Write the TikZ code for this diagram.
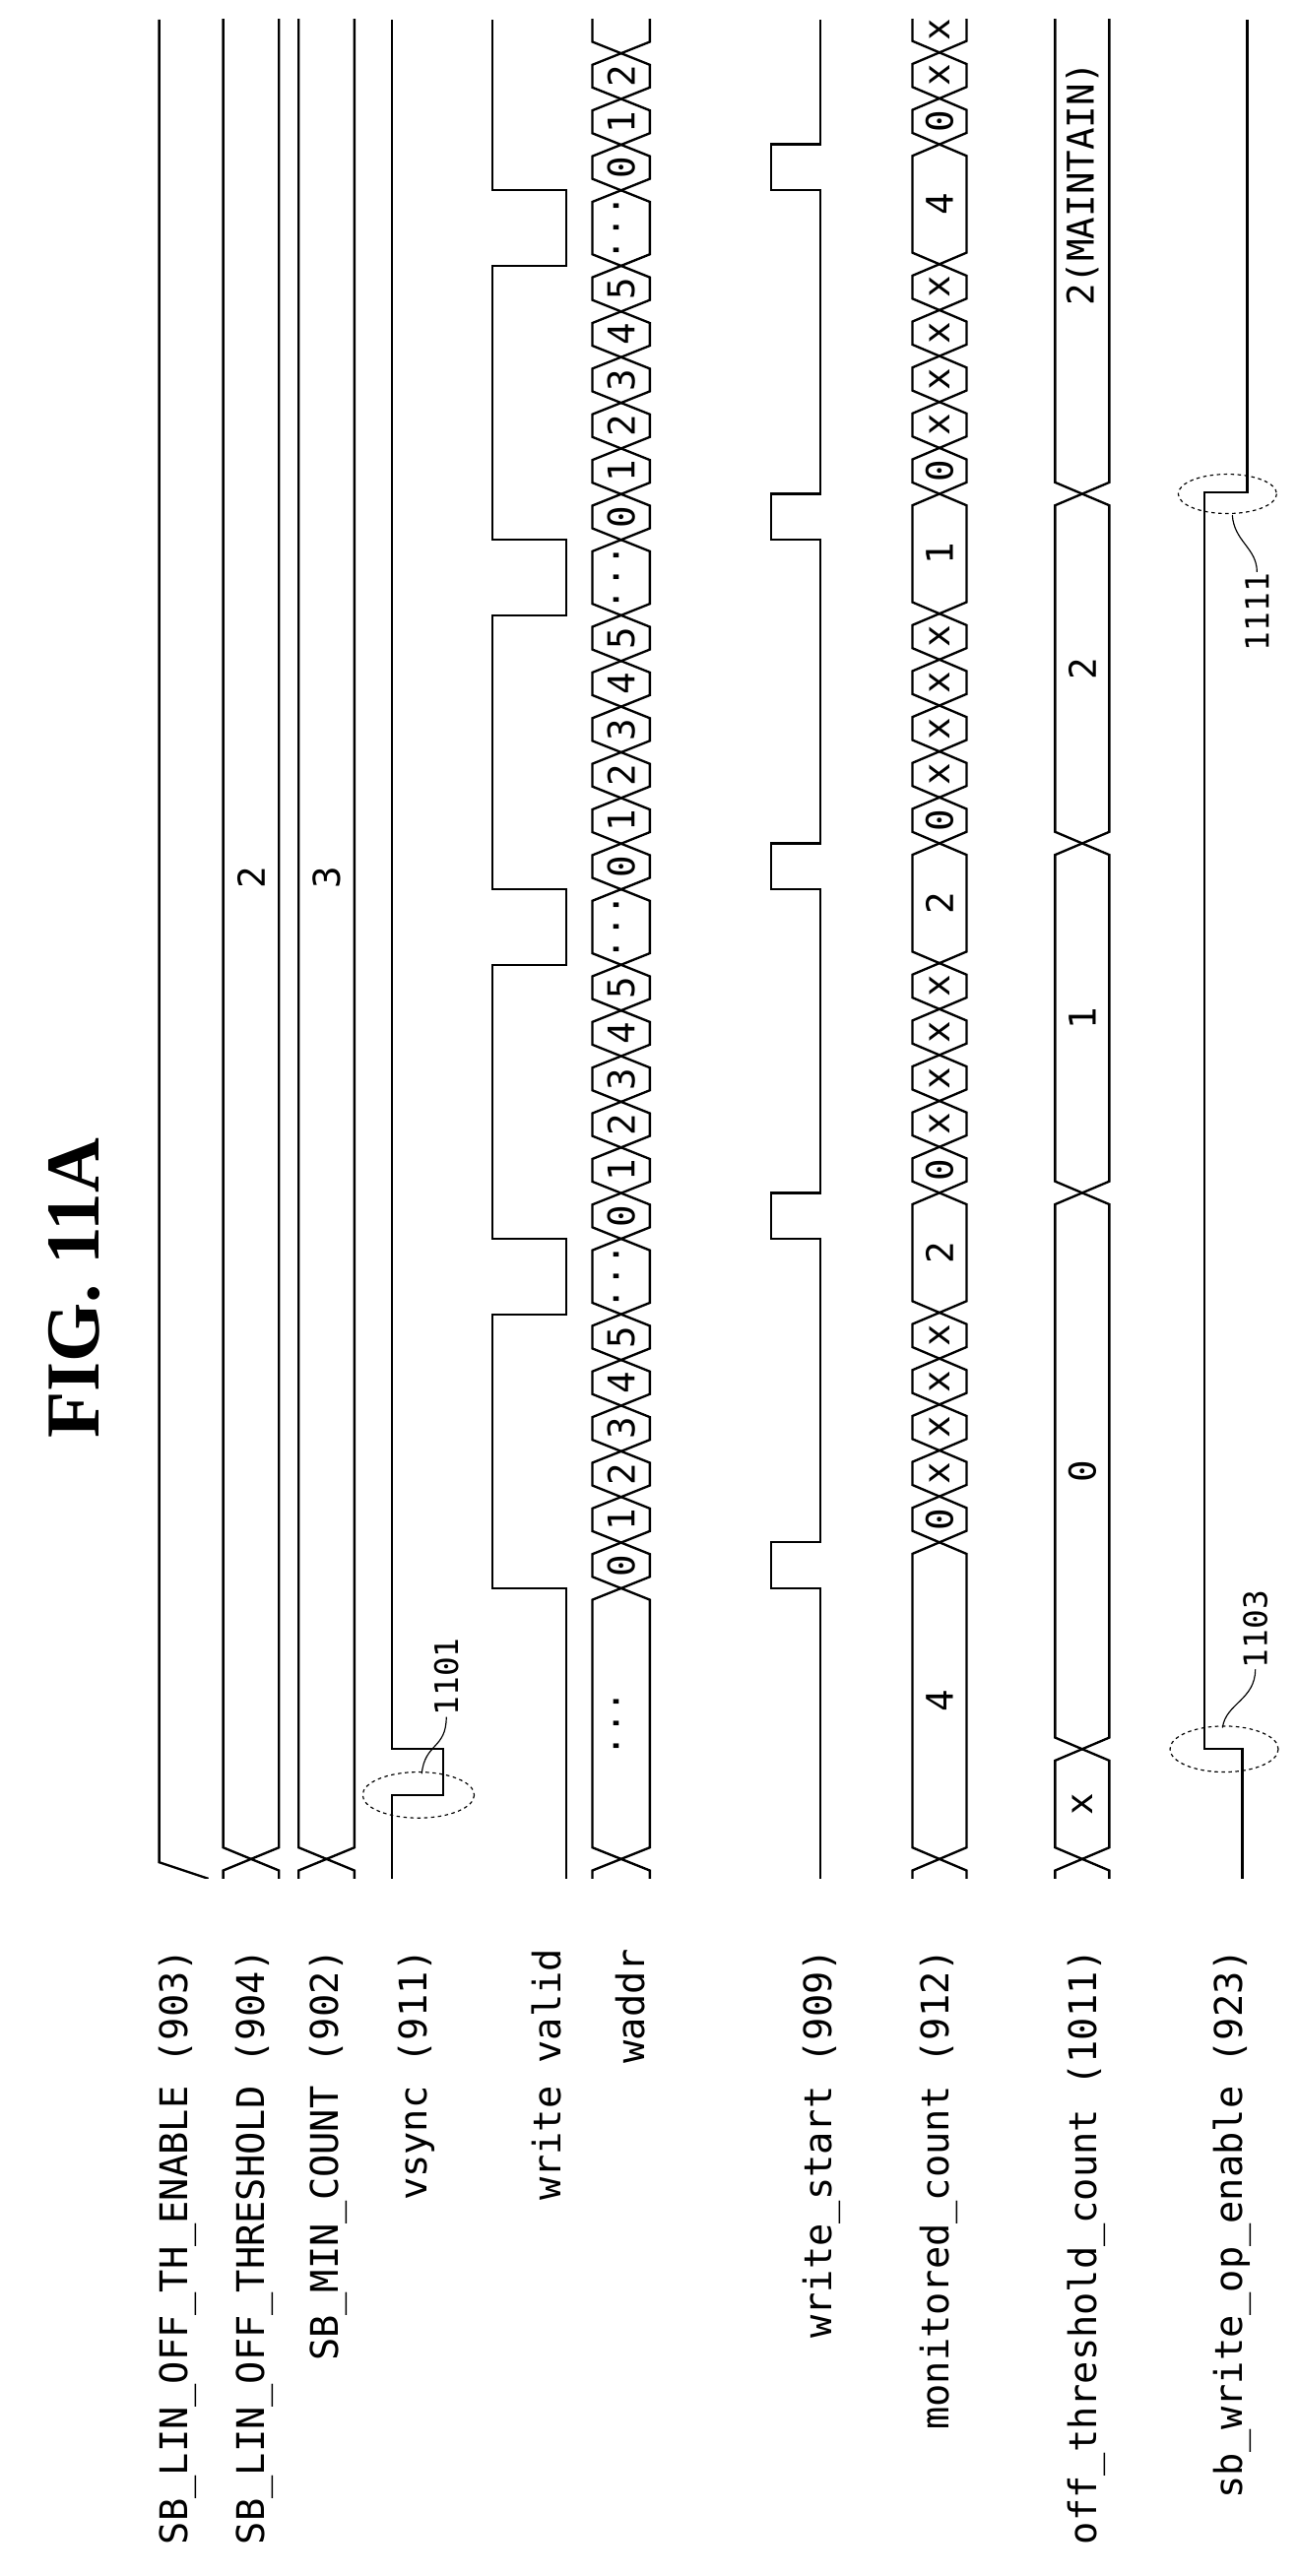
\documentclass[tikz,border=0pt]{standalone}
\usepackage{fontspec}
\setmainfont{DejaVu Sans Mono}
\newfontfamily\titlefont{Liberation Serif}

% one bus cell: x left, x right, top, bottom, value
\newcommand{\buscell}[5]{%
\draw (#1,{#4-7})--(#1,{#3+7})--({(#1+#2)/2},{#3})--(#2,{#3+7})--(#2,{#4-7})--({(#1+#2)/2},{#4})--cycle;
\node[val] at ({(#1+#2)/2},{((#3)+(#4))/2}){#5};
}

\begin{document}
\begin{tikzpicture}[x=0.05cm,y=-0.05cm,line width=2pt,line join=miter,
  sig/.style={font=\fontsize{33}{33}\selectfont,rotate=90,inner sep=0pt,anchor=east},
  val/.style={font=\fontsize{32}{32}\selectfont,rotate=90,inner sep=0pt},
  refnum/.style={font=\fontsize{28}{28}\selectfont,rotate=90,inner sep=0pt},
  refmark/.style={dashed,line width=1pt},
  leader/.style={line width=1pt}]
\useasboundingbox (0,0) rectangle (790,1570);
\node[rotate=90,font=\titlefont\bfseries\fontsize{66}{66}\selectfont] (title) at (45,785){FIG. 11A};

% signal names
\node[sig] (lenable) at (108,1187){SB\_LIN\_OFF\_TH\_ENABLE (903)};
\node[sig] (lthresh) at (155,1187){SB\_LIN\_OFF\_THRESHOLD (904)};
\node[sig] (lmin) at (200,1187){SB\_MIN\_COUNT (902)};
\node[sig] (lvsync) at (254,1187){vsync (911)};
\node[sig] (lvalid) at (333,1187){write valid};
\node[sig] (lwaddr) at (384,1187){waddr};
\node[sig] (lstart) at (501,1187){write\_start (909)};
\node[sig] (lmon) at (572,1187){monitored\_count (912)};
\node[sig] (loff) at (662,1187){off\_threshold\_count (1011)};
\node[sig] (lop) at (751,1187){sb\_write\_op\_enable (923)};

\begin{scope}
\clip (0,12) rectangle (790,1145);
% SB_LIN_OFF_TH_ENABLE
\draw (97,12)--(97,1135)--(127,1145);
% threshold and min count
\buscell{136}{170}{-63}{1133}{2}
\buscell{136}{170}{1133}{1170}{}
\buscell{182}{216}{-63}{1133}{3}
\buscell{182}{216}{1133}{1170}{}
% vsync
\draw (239,1145)--(239,1094)--(270,1094)--(270,1066)--(239,1066)--(239,12);
% write valid
\draw (345,1145)--(345,968)--(300,968)
  \foreach \a in {755,542,329,116}{--(300,{\a+46})--(345,{\a+46})--(345,\a)--(300,\a)}--(300,12);
% waddr
\buscell{361}{396}{1133}{1170}{}
\buscell{361}{396}{968}{1133}{···}
\foreach \b/\a in {968/755,755/542,542/329,329/116}{
  \foreach \i in {0,...,5}{
    \pgfmathsetmacro\lo{\b-\i*27.83}
    \pgfmathsetmacro\hi{\b-(\i+1)*27.83}
    \buscell{361}{396}{\hi}{\lo}{\i}
  }
  \buscell{361}{396}{\a}{\a+46}{···}
}
\buscell{361}{396}{88.2}{116}{0}
\buscell{361}{396}{60.3}{88.2}{1}
\buscell{361}{396}{32.5}{60.3}{2}
\buscell{361}{396}{-20}{32.5}{}
% write_start
\draw (500,1145)
  \foreach \a in {968,755,542,329,116}{--(500,\a)--(470,\a)--(470,{\a-28})--(500,{\a-28})}--(500,12);
% monitored_count
\buscell{556}{589}{1133}{1170}{}
\buscell{556}{589}{940}{1133}{4}
\foreach \a/\v in {968/2,755/2,542/1,329/4}{
  \buscell{556}{589}{\a-56}{\a-28}{0}
  \foreach \k in {2,...,5}{\buscell{556}{589}{\a-28*(\k+1)}{\a-28*\k}{x}}
  \buscell{556}{589}{\a-241}{\a-168}{\v}
}
\buscell{556}{589}{60}{88}{0}
\buscell{556}{589}{32}{60}{x}
\buscell{556}{589}{4}{32}{x}
% off_threshold_count
\buscell{643}{676}{1133}{1170}{}
\buscell{643}{676}{1066}{1133}{x}
\buscell{643}{676}{727}{1066}{0}
\buscell{643}{676}{514}{727}{1}
\buscell{643}{676}{301}{514}{2}
\buscell{643}{676}{-77}{301}{2(MAINTAIN)}
% sb_write_op_enable
\draw (757,1145)--(757,1066)--(734,1066)--(734,300)--(760,300)--(760,12);
\end{scope}

% reference marks
\draw[refmark] (255,1094) ellipse [x radius=34,y radius=14];
\node[refnum] (r1101) at (272,1022){1101};
\draw[leader] (r1101.west) .. controls (272,1066) and (259,1062) .. (257,1081);
\draw[refmark] (746,1066) ellipse [x radius=33,y radius=14];
\node[refnum] (r1103) at (765,993){1103};
\draw[leader] (r1103.west) .. controls (765,1036) and (747,1038) .. (745,1053);
\draw[refmark] (748,301) ellipse [x radius=30,y radius=12];
\node[refnum] (r1111) at (766,373){1111};
\draw[leader] (r1111.east) .. controls (766,334) and (752,330) .. (751,314);
\end{tikzpicture}
\end{document}
